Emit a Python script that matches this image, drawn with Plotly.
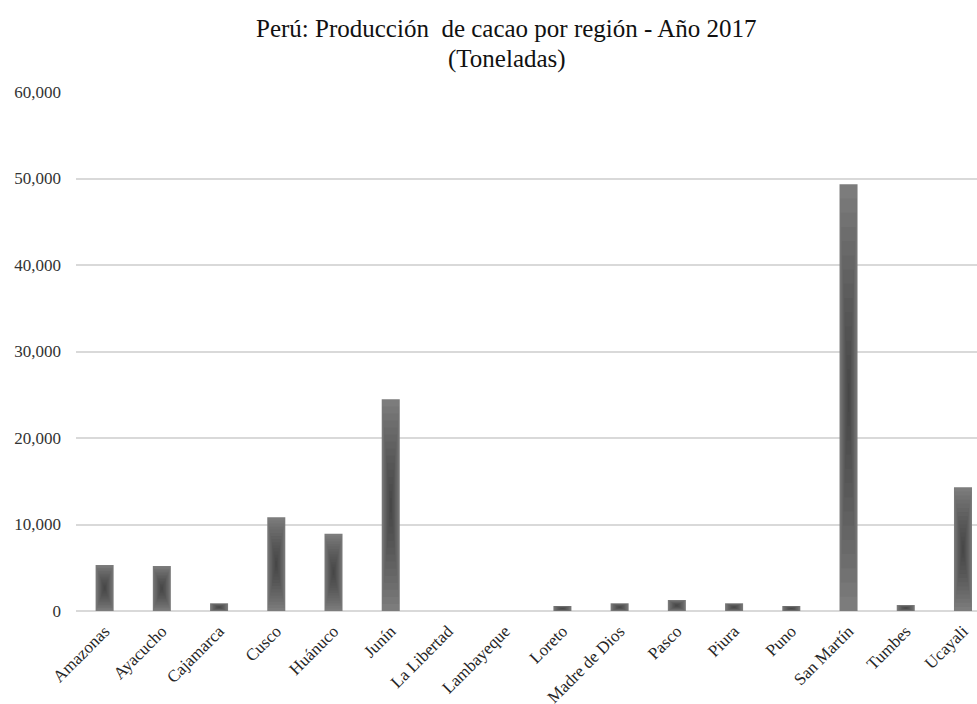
import plotly.graph_objects as go

# Cocoa production by region, Peru 2017 (tonnes)
regions = [
    "Amazonas", "Ayacucho", "Cajamarca", "Cusco", "Huánuco", "Junín",
    "La Libertad", "Lambayeque", "Loreto", "Madre de Dios", "Pasco",
    "Piura", "Puno", "San Martín", "Tumbes", "Ucayali",
]
production = [
    5320, 5200, 890, 10830, 8940, 24470,
    0, 0, 580, 890, 1270,
    890, 580, 49330, 690, 14300,
]

y_ticks = [0, 10000, 20000, 30000, 40000, 50000, 60000]
y_tick_text = ["0", "10,000", "20,000", "30,000", "40,000", "50,000", "60,000"]

title_line1 = "Perú: Producción  de cacao por región - Año 2017"
title_line2 = "(Toneladas)"

BAR_WIDTH = 0.315
SHADE_STEPS = 14
SERIF = "Liberation Serif"

fig = go.Figure()

# base bars
fig.add_trace(go.Bar(
    x=regions, y=production, width=BAR_WIDTH,
    marker=dict(color="#7c7c7c", line=dict(width=0)),
    hoverinfo="skip", showlegend=False,
))

# nested, shrinking translucent layers give a centre-dark path gradient
for k in range(1, SHADE_STEPS + 1):
    f = 1 - k / (SHADE_STEPS + 1)
    heights = [v * f for v in production]
    bases = [v * (1 - f) / 2 for v in production]
    fig.add_trace(go.Bar(
        x=regions, y=heights, base=bases, width=BAR_WIDTH * f,
        marker=dict(color="rgba(40,40,40,0.055)", line=dict(width=0)),
        hoverinfo="skip", showlegend=False,
    ))

# two-line heading
for text, ypos in [(title_line1, 1.1233), (title_line2, 1.0636)]:
    fig.add_annotation(
        text=text, xref="paper", yref="paper", x=0.478, y=ypos,
        xanchor="center", yanchor="middle", showarrow=False,
        font=dict(family=SERIF, size=25, color="#111111"),
    )

fig.update_layout(
    barmode="overlay",
    width=977, height=704,
    margin=dict(l=76, r=0, t=92, b=93),
    paper_bgcolor="white", plot_bgcolor="white",
    font=dict(family=SERIF, size=17, color="#333333"),
    xaxis=dict(
        range=[-0.5, 15.245],
        tickangle=-45,
        showgrid=False,
        showline=False,
        ticks="",
        ticklabelstandoff=6,
        automargin=False,
        tickfont=dict(family=SERIF, size=17, color="#262626"),
    ),
    yaxis=dict(
        range=[0, 60000],
        tickvals=y_ticks, ticktext=y_tick_text,
        showgrid=True, gridcolor="#d9d9d9", gridwidth=1.5,
        zeroline=True, zerolinecolor="#d9d9d9", zerolinewidth=1.5,
        ticks="", ticklabelstandoff=14,
        automargin=False,
        tickfont=dict(family=SERIF, size=17, color="#333333"),
    ),
)

fig.write_html("out.html")
